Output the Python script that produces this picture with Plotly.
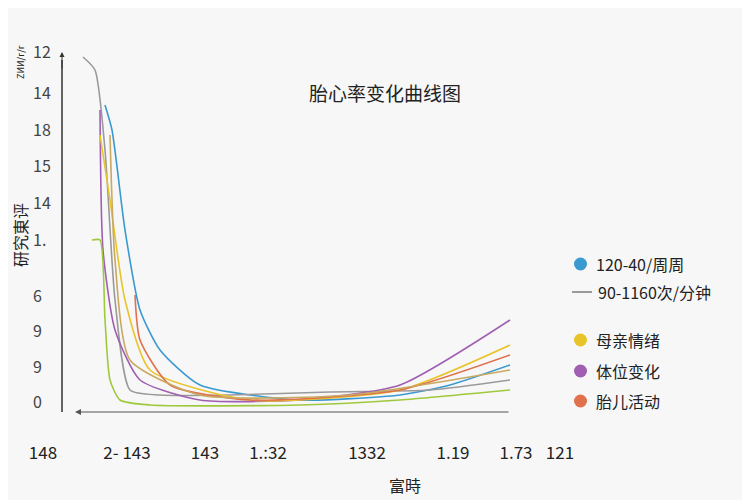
import plotly.graph_objects as go

title = "胎心率变化曲线图"
y_ticks = [37.8, 33.7, 30.0, 26.4, 22.7, 19.0, 13.4, 9.9, 6.3, 2.8]
y_labels = ["12", "14", "18", "15", "14", "1.", "6", "9", "9", "0"]
x_ticks = [1.3, 9.7, 17.5, 23.8, 33.7, 42.3, 48.6, 53.0]
x_labels = ["148", "2- 143", "143", "1.:32", "1332", "1.19", "1.73", "121"]

series = {
    "blue":   ([7.5, 8.2, 9.5, 11, 13, 17, 27, 37, 42, 48], [32.5, 30, 20, 12, 8, 4.5, 3, 3.5, 4.5, 6.5]),
    "gray":   ([5.3, 6.5, 7.5, 8.5, 10, 13, 20, 30, 40, 48], [37.3, 36, 28, 13, 4, 3.5, 3.5, 3.8, 4, 5]),
    "purple": ([7, 7.3, 8.5, 11, 17, 27, 37, 48], [32, 18, 10, 5, 3, 3, 4.5, 11]),
    "yellow": ([7, 8, 9.5, 12, 22, 37, 48], [29.5, 23, 13, 6, 3, 4, 8.5]),
    "green":  ([6.2, 7, 7.5, 8, 9, 12, 27, 37, 48], [19, 19, 11, 5, 3, 2.5, 2.5, 3, 4]),
    "orange": ([10.5, 11, 14, 22, 37, 48], [13.5, 9, 4.5, 3, 4, 7.5]),
    "olive":  ([8, 8.5, 10, 17, 32, 48], [29.5, 17, 7, 3.5, 3.5, 6]),
}
colors = {"blue": "#3a9ad0", "gray": "#9a9a9a", "purple": "#a05fb0", "yellow": "#e8c42a",
          "green": "#9fc93c", "orange": "#e0714c", "olive": "#c9a860"}

legend_labels = ["120-40/周周", "90-1160次/分钟", "母亲情绪", "体位变化", "胎儿活动"]
legend_colors = ["#3a9ad0", "#9a9a9a", "#e8c42a", "#a05fb0", "#e0714c"]
legend_y = [264, 292, 340, 371, 401]

fig = go.Figure()
for k, (xs, ys) in series.items():
    fig.add_trace(go.Scatter(x=xs, y=ys, mode="lines",
                             line=dict(color=colors[k], width=1.6, shape="spline", smoothing=0.6),
                             showlegend=False))

W, H = 750, 500
L, T, PW, PH = 30, 40, 560, 390
def px(x): return (x - L) / PW
def py_(y): return (T + PH - y) / PH

fig.update_layout(
    width=W, height=H,
    margin=dict(l=L - 8, r=W - (L - 8) - PW, t=T - 8, b=H - (T - 8) - PH, autoexpand=False),
    paper_bgcolor="#f7f7f7", plot_bgcolor="#f7f7f7",
    font=dict(family="Noto Sans CJK SC", color="#222"),
    xaxis=dict(range=[0, 56], tickvals=x_ticks, ticktext=x_labels, showgrid=False, zeroline=False,
               showline=False, ticks="outside", ticklen=8, tickcolor="rgba(0,0,0,0)",
               ticklabeloverflow="allow",
               tickfont=dict(size=17), fixedrange=True, automargin=False),
    yaxis=dict(range=[0, 39], tickvals=y_ticks, ticktext=y_labels, showgrid=False, zeroline=False,
               showline=False, ticks="", ticklabelposition="inside", ticklabeloverflow="allow",
               tickfont=dict(size=16), fixedrange=True, automargin=False),
)
fig.add_shape(type="line", xref="x", yref="y", x0=3.2, x1=3.2, y0=1.8, y1=37, line=dict(color="#333", width=1.5))
fig.add_annotation(xref="x", yref="y", x=3.2, y=37.8, ax=3.2, ay=36, axref="x", ayref="y", showarrow=True,
                   arrowhead=2, arrowcolor="#333", text="")
fig.add_annotation(xref="x", yref="y", x=4.5, y=1.8, ax=48, ay=1.8, axref="x", ayref="y", showarrow=True,
                   arrowhead=2, arrowcolor="#555", arrowwidth=1.2, text="")
def txt(x, y, s, size, angle=0, xa="center"):
    fig.add_annotation(xref="paper", yref="paper", x=px(x), y=py_(y), text=s, showarrow=False,
                       textangle=angle, xanchor=xa, yanchor="middle", font=dict(size=size))
txt(385, 93, title, 19)
txt(405, 485, "富時", 16)
txt(20, 235, "研究東评", 16, -90)
txt(20, 62, "ZИИ/г/г", 9, -90)
for i, (lab, c, py) in enumerate(zip(legend_labels, legend_colors, legend_y)):
    if i == 1:
        fig.add_shape(type="line", xref="paper", yref="paper", x0=px(572), x1=px(592),
                      y0=py_(py), y1=py_(py), line=dict(color=c, width=2))
        tx = 596
    else:
        fig.add_shape(type="circle", xref="paper", yref="paper", x0=px(574), x1=px(587),
                      y0=py_(py + 6.5), y1=py_(py - 6.5), fillcolor=c, line=dict(width=0))
        tx = 594
    txt(tx, py, lab, 16, xa="left")
fig.write_html("out.html")
